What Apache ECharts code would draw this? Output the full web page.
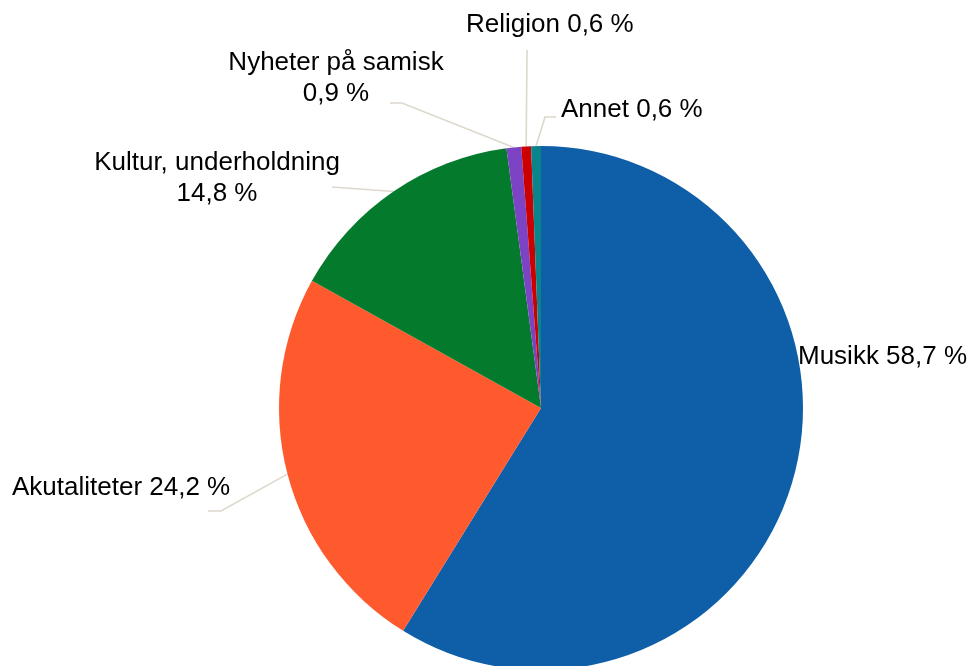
<!DOCTYPE html>
<html>
<head>
<meta charset="utf-8">
<script src="https://cdn.jsdelivr.net/npm/echarts@6/dist/echarts.min.js"></script>
<style>
html,body{margin:0;padding:0;background:#fff;}
#chart{width:971px;height:666px;}
</style>
</head>
<body>
<div id="chart"></div>
<script>
const categories = ['Musikk', 'Akutaliteter', 'Kultur, underholdning', 'Nyheter på samisk', 'Religion', 'Annet'];
const values = [58.7, 24.2, 14.8, 0.9, 0.6, 0.6];

// presentation (not data)
const colors = ['#0e5ea8', '#ff5a2e', '#037a2c', '#7c44c4', '#cc0000', '#08848a'];
const separators = [' ', ' ', '\n', '\n', ' ', ' '];
const labelPlace = [
  {x: 798, y: 357, align: 'left', line: null},
  {x: 12, y: 488, align: 'left', line: [[221, 511], [208, 511]]},
  {x: 217, y: 178, align: 'center', line: [[332, 187], [332, 187]]},
  {x: 336, y: 78, align: 'center', line: [[402, 103], [390, 103]]},
  {x: 466, y: 25, align: 'left', line: [[527, 50], [527, 50]]},
  {x: 561, y: 110, align: 'left', line: [[545, 117], [556, 117]]}
];

const fmt = v => v.toFixed(1).replace('.', ',') + ' %';

const data = categories.map((name, i) => ({
  name: name,
  value: values[i],
  itemStyle: {color: colors[i]},
  label: {formatter: name + separators[i] + fmt(values[i])},
  labelLine: {show: labelPlace[i].line !== null}
}));

const chart = echarts.init(document.getElementById('chart'));
chart.setOption({
  animation: false,
  backgroundColor: '#fff',
  series: [{
    type: 'pie',
    center: [541, 408],
    radius: 262,
    startAngle: 90,
    clockwise: true,
    avoidLabelOverlap: false,
    emphasis: {disabled: true},
    itemStyle: {borderWidth: 0},
    label: {
      show: true,
      position: 'outside',
      fontFamily: 'Liberation Sans, Arial, sans-serif',
      fontSize: 26,
      lineHeight: 31,
      color: '#000',
      align: 'center'
    },
    labelLine: {
      show: true,
      length: 10,
      length2: 10,
      lineStyle: {color: '#ddd8cc', width: 1.6}
    },
    labelLayout: function (params) {
      const p = labelPlace[params.dataIndex];
      const out = {x: p.x, y: p.y, align: p.align, verticalAlign: 'middle'};
      if (p.line && params.labelLinePoints) {
        const start = params.labelLinePoints[0];
        out.labelLinePoints = [start, p.line[0], p.line[1]];
      }
      return out;
    },
    data: data
  }]
});
</script>
</body>
</html>
